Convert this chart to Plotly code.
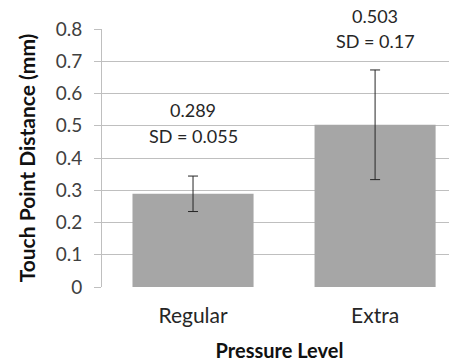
import plotly.graph_objects as go

# Data
levels = ['Regular', 'Extra']
mean_distance = [0.289, 0.503]
sd_distance = [0.055, 0.17]
mean_label_y = [0.55, 0.84]  # where the value labels sit (axis units)
sd_label_y = [0.468, 0.762]
y_ticks = [0, 0.1, 0.2, 0.3, 0.4, 0.5, 0.6, 0.7, 0.8]

FONT = 'Lato'
GRID = '#bfbfbf'
Y_MAX = 0.8

fig = go.Figure()

fig.add_trace(go.Bar(
    x=levels,
    y=mean_distance,
    width=0.665,
    marker=dict(color='#a6a6a6', line=dict(width=0)),
    error_y=dict(type='data', array=sd_distance, visible=True,
                 color='#262626', thickness=1, width=5),
    showlegend=False,
))

# value / SD labels above each bar (paper y so they may sit above the axis top)
for lvl, m, sd, my, sy in zip(levels, mean_distance, sd_distance, mean_label_y, sd_label_y):
    fig.add_annotation(x=lvl, xref='x', y=my / Y_MAX, yref='paper',
                       text=f'{m:.3f}', showarrow=False, yanchor='middle',
                       borderpad=0,
                       font=dict(family=FONT, size=18, color='#262626'))
    fig.add_annotation(x=lvl, xref='x', y=sy / Y_MAX, yref='paper',
                       text=f'SD = {sd:g}', showarrow=False, yanchor='middle',
                       borderpad=0,
                       font=dict(family=FONT, size=18, color='#262626'))

# page body has an 8px margin, so the figure is shifted by 8px
fig.update_layout(
    width=449, height=354,
    margin=dict(l=94, r=0, t=21, b=75),
    plot_bgcolor='white', paper_bgcolor='white',
    font=dict(family=FONT, color='#404040'),
)

fig.update_xaxes(
    range=[-0.5, 1.45], automargin=False,
    showline=False, showgrid=False,
    ticks='outside', ticklen=10, tickcolor='rgba(0,0,0,0)',
    tickfont=dict(family=FONT, size=21, color='#262626'),
    title=dict(text='<b>Pressure Level</b>', standoff=18,
               font=dict(family=FONT, size=20, color='#111111')),
)

fig.update_yaxes(
    range=[0, Y_MAX], automargin=False,
    tickvals=y_ticks,
    ticktext=[f'{v:g}' for v in y_ticks],
    showgrid=True, gridcolor=GRID, gridwidth=1,
    showline=True, linecolor=GRID, linewidth=1,
    ticks='outside', ticklen=7, tickcolor=GRID,
    ticklabelstandoff=8,
    zeroline=False,
    tickfont=dict(family=FONT, size=19, color='#404040'),
    title=dict(text='<b>Touch Point Distance (mm)</b>', standoff=14,
               font=dict(family=FONT, size=21, color='#111111')),
)

fig.write_html('out.html')
